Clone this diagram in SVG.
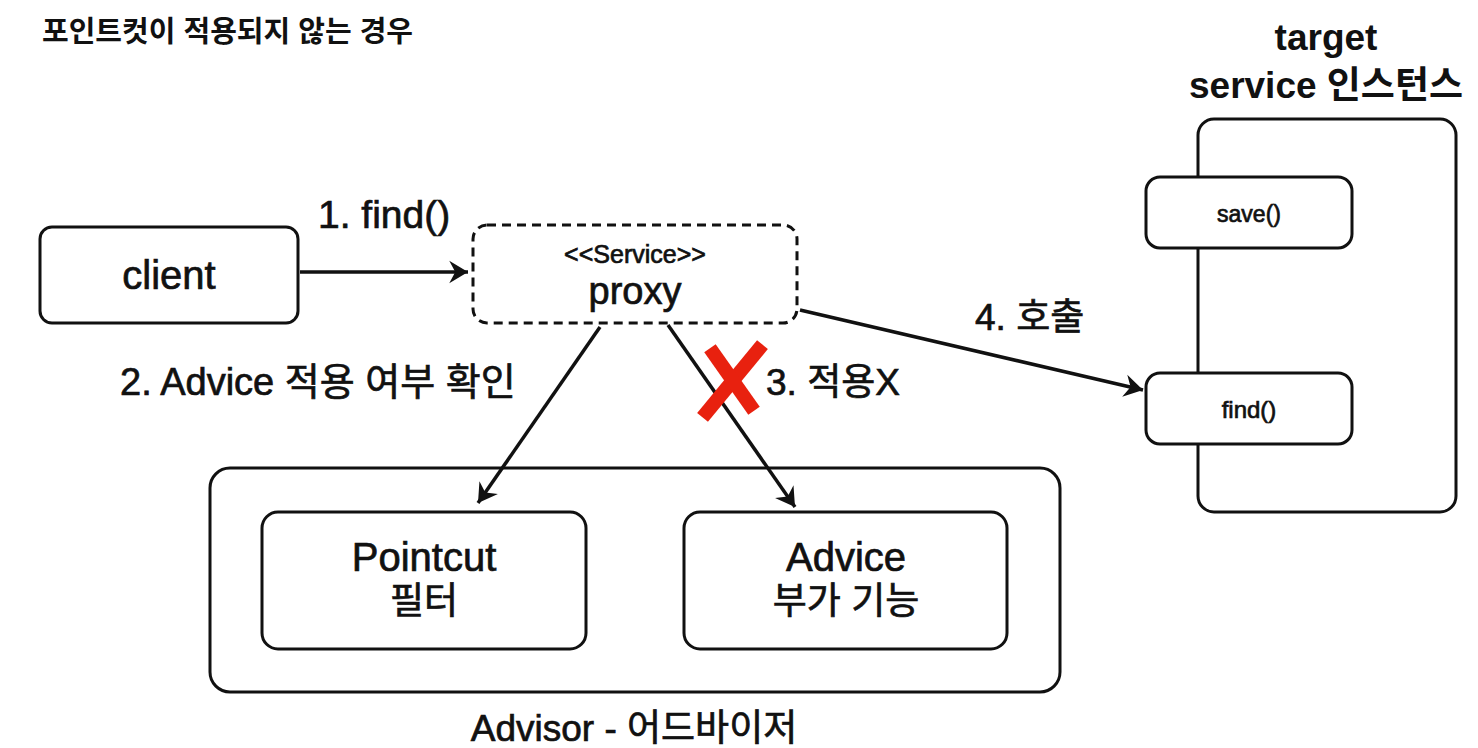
<svg xmlns="http://www.w3.org/2000/svg" width="1478" height="748" viewBox="0 0 1478 748">
<defs>
<marker id="ah" viewBox="0 0 12 12" refX="11" refY="6" markerWidth="9" markerHeight="9" markerUnits="userSpaceOnUse" orient="auto" overflow="visible">
<path d="M-14,-9 L11,6 L-14,21 L-6,6 Z" fill="#111"/>
</marker>
<style>
.box{fill:#fff;stroke:#111;stroke-width:3}
.dash{fill:#fff;stroke:#111;stroke-width:3;stroke-dasharray:9 6}
.t{font-family:"Liberation Sans","Noto Sans CJK KR",sans-serif;fill:#111;text-anchor:middle;stroke:#111;stroke-width:0.7}
.l{font-family:"Liberation Sans","Noto Sans CJK KR",sans-serif;fill:#111;stroke:#111;stroke-width:0.7}
.c{stroke:#111;stroke-width:3.5;fill:none;marker-end:url(#ah)}
</style>
</defs>
<rect width="1478" height="748" fill="#fff"/>
<text class="l" x="42" y="42" font-size="29" style="font-weight:bold;stroke-width:0">포인트컷이 적용되지 않는 경우</text>

<g id="target">
<rect class="box" x="1198" y="119" width="258" height="393" rx="16"/>
<text class="t" x="1326" y="50" font-size="37" style="font-weight:bold;stroke-width:0">target</text>
<text class="t" x="1326" y="98" font-size="37" style="font-weight:bold;stroke-width:0">service 인스턴스</text>
</g>
<g id="save">
<rect class="box" x="1146" y="177" width="206" height="71" rx="14"/>
<text class="t" x="1249" y="222" font-size="23">save()</text>
</g>
<g id="findm">
<rect class="box" x="1146" y="373" width="206" height="71" rx="14"/>
<text class="t" x="1249" y="418" font-size="24">find()</text>
</g>

<g id="client">
<rect class="box" x="40" y="227" width="258" height="96" rx="12"/>
<text class="t" x="169" y="289" font-size="40">client</text>
</g>
<g id="proxy">
<rect class="dash" x="473" y="225" width="324" height="98" rx="14"/>
<text class="t" x="635" y="263" font-size="25">&lt;&lt;Service&gt;&gt;</text>
<text class="t" x="635" y="304" font-size="38">proxy</text>
</g>

<g id="advisor">
<rect class="box" x="210" y="468" width="850" height="224" rx="20"/>
<text class="t" x="634" y="741" font-size="37">Advisor - 어드바이저</text>
</g>
<g id="pointcut">
<rect class="box" x="262" y="512" width="324" height="137" rx="16"/>
<text class="t" x="424" y="571" font-size="40">Pointcut</text>
<text class="t" x="424" y="614" font-size="37">필터</text>
</g>
<g id="advice">
<rect class="box" x="684" y="512" width="323" height="137" rx="16"/>
<text class="t" x="846" y="571" font-size="40">Advice</text>
<text class="t" x="846" y="614" font-size="37">부가 기능</text>
</g>

<g id="connectors">
<line class="c" x1="300" y1="272" x2="468" y2="272"/>
<line class="c" x1="600" y1="327" x2="478" y2="503"/>
<line class="c" x1="668" y1="325" x2="795" y2="507"/>
<line class="c" x1="800" y1="310" x2="1143" y2="390"/>
<text class="l" x="318" y="228" font-size="39">1. find()</text>
<text class="l" x="120" y="395" font-size="38">2. Advice 적용 여부 확인</text>
<text class="l" x="766" y="395" font-size="37">3. 적용X</text>
<text class="l" x="975" y="330" font-size="37">4. 호출</text>
<g id="xmark" stroke="#e8210f" stroke-width="14" stroke-linecap="square">
<line x1="758" y1="350" x2="707" y2="412"/>
<line x1="714" y1="354" x2="750" y2="405"/>
</g>
</g>
</svg>
